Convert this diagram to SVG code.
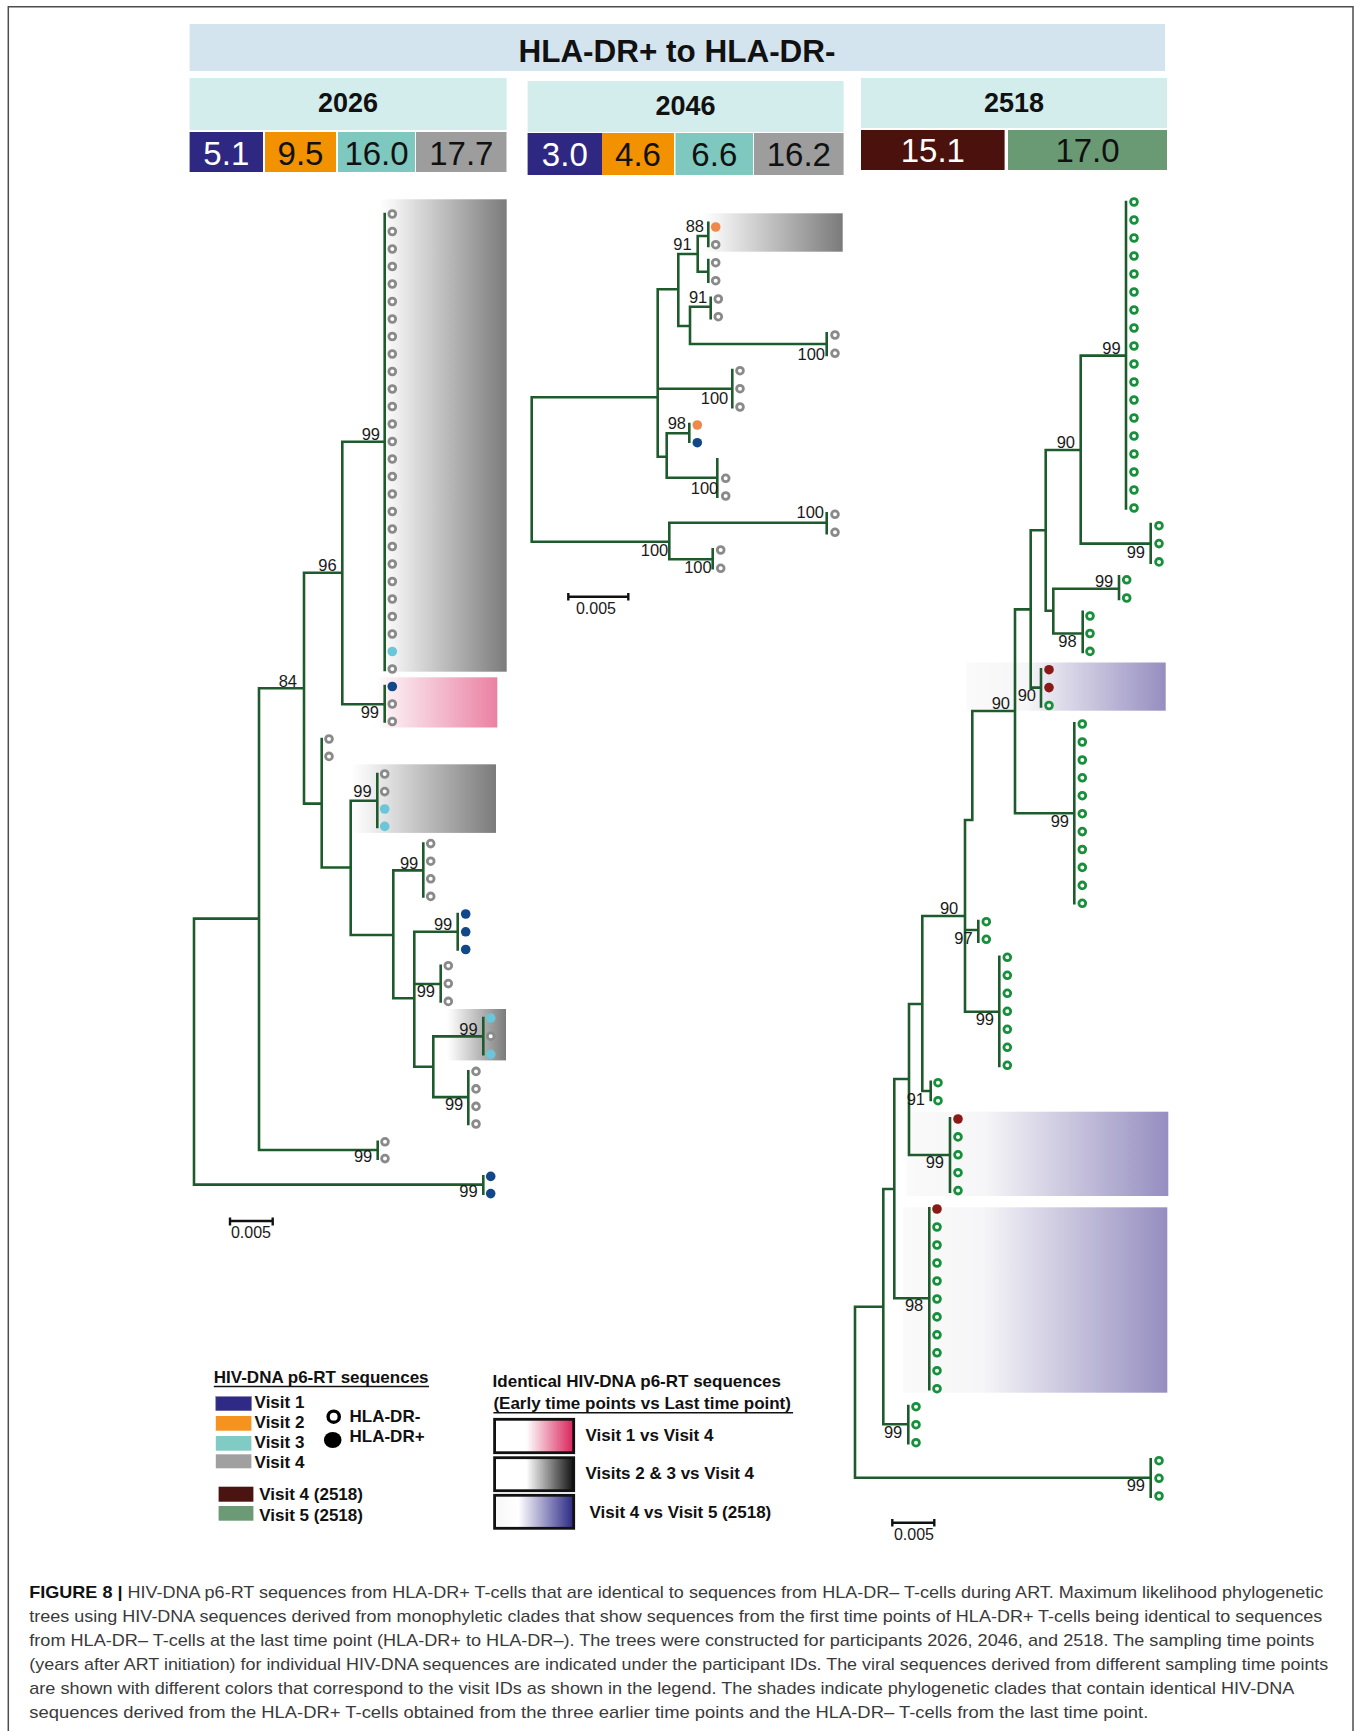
<svg xmlns="http://www.w3.org/2000/svg" width="1360" height="1731" viewBox="0 0 1360 1731">
<defs>
<linearGradient id="gGray" x1="0" y1="0" x2="1" y2="0"><stop offset="0" stop-color="#ffffff"/><stop offset="0.12" stop-color="#f2f2f2"/><stop offset="1" stop-color="#7b7b7b"/></linearGradient>
<linearGradient id="gPink" x1="0" y1="0" x2="1" y2="0"><stop offset="0" stop-color="#ffffff"/><stop offset="0.1" stop-color="#fbeef2"/><stop offset="1" stop-color="#ea81a3"/></linearGradient>
<linearGradient id="gPurple" x1="0" y1="0" x2="1" y2="0"><stop offset="0" stop-color="#fafafa"/><stop offset="0.3" stop-color="#f6f6f8"/><stop offset="1" stop-color="#958ec0"/></linearGradient>
<linearGradient id="lPink" x1="0" y1="0" x2="1" y2="0"><stop offset="0" stop-color="#ffffff"/><stop offset="0.4" stop-color="#ffffff"/><stop offset="1" stop-color="#d9225a"/></linearGradient>
<linearGradient id="lBlack" x1="0" y1="0" x2="1" y2="0"><stop offset="0" stop-color="#ffffff"/><stop offset="0.4" stop-color="#ffffff"/><stop offset="1" stop-color="#111111"/></linearGradient>
<linearGradient id="lBlue" x1="0" y1="0" x2="1" y2="0"><stop offset="0" stop-color="#f7f7f7"/><stop offset="0.3" stop-color="#ffffff"/><stop offset="1" stop-color="#2b2884"/></linearGradient>
</defs>
<style>
.br{fill:none;stroke:#1e5b2c;stroke-width:2.6;stroke-linecap:square}
.gr{fill:#ffffff;stroke:#8a8a8a;stroke-width:2.8}
.gn{fill:#ffffff;stroke:#17903c;stroke-width:2.8}
.cy{fill:#6ac6d8}
.bl{fill:#124889}
.or{fill:#f08849}
.mr{fill:#8a1a17}
.bs{font-family:"Liberation Sans Narrow","Liberation Sans",Arial,sans-serif;font-size:16.5px;fill:#1a1a1a;text-anchor:end}
.sc{font-family:"Liberation Sans Narrow","Liberation Sans",Arial,sans-serif;font-size:16px;fill:#1a1a1a;text-anchor:middle}
.sb{fill:none;stroke:#111;stroke-width:2.4}
.hd{font-family:"Liberation Sans",Arial,sans-serif;font-weight:bold;text-anchor:middle;fill:#111}
.num{font-family:"Liberation Sans Narrow","Liberation Sans",Arial,sans-serif;font-size:33px;text-anchor:middle;fill:#111}
.lg{font-family:"Liberation Sans",Arial,sans-serif;font-weight:bold;font-size:17px;fill:#111}
.cap{font-family:"Liberation Sans",Arial,sans-serif;font-size:17px;fill:#3a3a3a}
</style>
<rect x="0" y="0" width="1360" height="1731" fill="#ffffff"/>
<g id="frame" fill="none" stroke="#4d4d4d" stroke-width="1.5">
<path d="M8.3 1731 V6.7 H1353 V1731"/>
</g>

<g id="header">
<rect x="189.6" y="24" width="975.4" height="47" fill="#d4e4ef"/>
<text class="hd" x="677" y="62" font-size="31" textLength="317" lengthAdjust="spacingAndGlyphs">HLA-DR+ to HLA-DR-</text>
<g id="p2026-head">
<rect x="189.6" y="78" width="317" height="52" fill="#d3ecec"/>
<text class="hd" x="348" y="112" font-size="27">2026</text>
<rect x="189.6" y="132" width="73.4" height="40" fill="#2e2883"/>
<rect x="265" y="132" width="71" height="40" fill="#f39200"/>
<rect x="338" y="132" width="77" height="40" fill="#7ec8bf"/>
<rect x="416" y="132" width="90.5" height="40" fill="#9d9d9d"/>
<text class="num" x="226.3" y="164.5" style="fill:#ffffff">5.1</text>
<text class="num" x="300.5" y="164.5">9.5</text>
<text class="num" x="376.5" y="164.5">16.0</text>
<text class="num" x="461.3" y="164.5">17.7</text>
</g>
<g id="p2046-head">
<rect x="527.6" y="81" width="316" height="51" fill="#d3ecec"/>
<text class="hd" x="685.6" y="115" font-size="27">2046</text>
<rect x="527.6" y="133" width="74.4" height="42" fill="#2e2883"/>
<rect x="602" y="133" width="72" height="42" fill="#f39200"/>
<rect x="675.5" y="133" width="77.5" height="42" fill="#7ec8bf"/>
<rect x="754" y="133" width="89.6" height="42" fill="#9d9d9d"/>
<text class="num" x="564.8" y="166" style="fill:#ffffff">3.0</text>
<text class="num" x="638" y="166">4.6</text>
<text class="num" x="714.3" y="166">6.6</text>
<text class="num" x="798.8" y="166">16.2</text>
</g>
<g id="p2518-head">
<rect x="861" y="78" width="306" height="50" fill="#d3ecec"/>
<text class="hd" x="1014" y="111.7" font-size="27">2518</text>
<rect x="861" y="130" width="143.6" height="40" fill="#4b110c"/>
<rect x="1008" y="130" width="159" height="40" fill="#6a9a73"/>
<text class="num" x="932.8" y="162" style="fill:#ffffff">15.1</text>
<text class="num" x="1087.5" y="162">17.0</text>
</g>
</g>

<g id="tree-2026">
<g id="shades-2026">
<rect x="379" y="199.3" width="127.7" height="472.4" fill="url(#gGray)"/>
<rect x="376.7" y="677.3" width="120.6" height="50.2" fill="url(#gPink)"/>
<rect x="350.7" y="764.3" width="145.3" height="68.6" fill="url(#gGray)"/>
<rect x="446.7" y="1009" width="59.3" height="51.4" fill="url(#gGray)"/>
</g>
<g id="connectors-2026">
<path class="br" d="M384.7 214 V670 M342.3 441.7 H384.7 M384.7 686 V721.5 M342.3 704.3 H384.7 M342.3 441.7 V704.3 M304 572.7 H342.3 M304 572.7 V803.6 M259 688.3 H304 M304 803.6 H321.7 M321.7 739 V867.5 M321.7 867.5 H350.7 M350.7 800.7 V935 M350.7 800.7 H377.3 M377.3 774 V827 M350.7 935 H393.3 M393.3 870.4 V998.2 M393.3 870.4 H423.3 M423.3 843.6 V896.4 M393.3 998.2 H414.3 M414.3 931.8 V1066.8 M414.3 931.8 H457.7 M457.7 914 V949.5 M414.3 984 H440.7 M440.7 965.7 V1001.4 M414.3 1066.8 H433.3 M433.3 1036.4 V1097.1 M433.3 1036.4 H483.3 M483.3 1018 V1054.3 M433.3 1097.1 H468.3 M468.3 1071.4 V1124 M259 688.3 V1150 M194 918.6 H259 M259 1150 H377.7 M377.7 1141.8 V1158.6 M194 918.6 V1184.6 M194 1184.6 H483.3 M483.3 1176.4 V1193.6"/>
</g>
<g id="leaves-2026">
<circle class="gr" cx="392.3" cy="214" r="3.4"/><circle class="gr" cx="392.3" cy="231.5" r="3.4"/><circle class="gr" cx="392.3" cy="249" r="3.4"/><circle class="gr" cx="392.3" cy="266.5" r="3.4"/><circle class="gr" cx="392.3" cy="284" r="3.4"/><circle class="gr" cx="392.3" cy="301.5" r="3.4"/><circle class="gr" cx="392.3" cy="319" r="3.4"/><circle class="gr" cx="392.3" cy="336.5" r="3.4"/><circle class="gr" cx="392.3" cy="354" r="3.4"/><circle class="gr" cx="392.3" cy="371.5" r="3.4"/><circle class="gr" cx="392.3" cy="389" r="3.4"/><circle class="gr" cx="392.3" cy="406.5" r="3.4"/><circle class="gr" cx="392.3" cy="424" r="3.4"/><circle class="gr" cx="392.3" cy="441.5" r="3.4"/><circle class="gr" cx="392.3" cy="459" r="3.4"/><circle class="gr" cx="392.3" cy="476.5" r="3.4"/><circle class="gr" cx="392.3" cy="494" r="3.4"/><circle class="gr" cx="392.3" cy="511.5" r="3.4"/><circle class="gr" cx="392.3" cy="529" r="3.4"/><circle class="gr" cx="392.3" cy="546.5" r="3.4"/><circle class="gr" cx="392.3" cy="564" r="3.4"/><circle class="gr" cx="392.3" cy="581.5" r="3.4"/><circle class="gr" cx="392.3" cy="599" r="3.4"/><circle class="gr" cx="392.3" cy="616.5" r="3.4"/><circle class="gr" cx="392.3" cy="634" r="3.4"/><circle class="cy" cx="392.3" cy="651.5" r="4.8"/><circle class="gr" cx="392.3" cy="669" r="3.4"/>
<circle class="bl" cx="392.3" cy="686.5" r="4.8"/><circle class="gr" cx="392.3" cy="704" r="3.4"/><circle class="gr" cx="392.3" cy="721.5" r="3.4"/>
<circle class="gr" cx="329" cy="739" r="3.4"/><circle class="gr" cx="329" cy="756.4" r="3.4"/>
<circle class="gr" cx="384.7" cy="774" r="3.4"/><circle class="gr" cx="384.7" cy="791.6" r="3.4"/><circle class="cy" cx="384.7" cy="809" r="4.8"/><circle class="cy" cx="384.7" cy="826.4" r="4.8"/>
<circle class="gr" cx="430.7" cy="843.6" r="3.4"/><circle class="gr" cx="430.7" cy="861.2" r="3.4"/><circle class="gr" cx="430.7" cy="878.8" r="3.4"/><circle class="gr" cx="430.7" cy="896.4" r="3.4"/>
<circle class="bl" cx="465.7" cy="914" r="4.8"/><circle class="bl" cx="465.7" cy="931.8" r="4.8"/><circle class="bl" cx="465.7" cy="949.5" r="4.8"/>
<circle class="gr" cx="448.3" cy="965.7" r="3.4"/><circle class="gr" cx="448.3" cy="983.6" r="3.4"/><circle class="gr" cx="448.3" cy="1001.4" r="3.4"/>
<circle class="cy" cx="490.7" cy="1018" r="4.8"/><circle class="gr" cx="490.7" cy="1036.2" r="3.4"/><circle class="cy" cx="490.7" cy="1054.3" r="4.8"/>
<circle class="gr" cx="476" cy="1071.4" r="3.4"/><circle class="gr" cx="476" cy="1088.9" r="3.4"/><circle class="gr" cx="476" cy="1106.4" r="3.4"/><circle class="gr" cx="476" cy="1124" r="3.4"/>
<circle class="gr" cx="385" cy="1141.8" r="3.4"/><circle class="gr" cx="385" cy="1158.6" r="3.4"/>
<circle class="bl" cx="490.7" cy="1176.4" r="4.8"/><circle class="bl" cx="490.7" cy="1193.6" r="4.8"/>
</g>
<g id="labels-2026">
<text class="bs" x="380" y="440">99</text>
<text class="bs" x="336.7" y="571">96</text>
<text class="bs" x="297" y="686.5">84</text>
<text class="bs" x="379" y="717.5">99</text>
<text class="bs" x="371.7" y="797">99</text>
<text class="bs" x="418.3" y="868.6">99</text>
<text class="bs" x="452.3" y="930">99</text>
<text class="bs" x="435" y="997">99</text>
<text class="bs" x="477.7" y="1034.6">99</text>
<text class="bs" x="463.3" y="1110">99</text>
<text class="bs" x="372.3" y="1162">99</text>
<text class="bs" x="477.7" y="1197">99</text>
</g>
<g id="scale-2026">
<path class="sb" d="M230 1221 H272.7 M230 1217.5 V1225.5 M272.7 1217.5 V1225.5"/>
<text class="sc" x="251" y="1238">0.005</text>
</g>
</g>

<g id="tree-2046">
<rect x="701.7" y="213.3" width="141" height="38.4" fill="url(#gGray)"/>
<g id="connectors-2046">
<path class="br" d="M708.3 222.7 V246 M697.7 236 H708.3 M697.7 236 V271.7 M708.3 260 V281.7 M697.7 271.7 H708.3 M678.3 254 H697.7 M678.3 254 V326 M678.3 326 H690 M690 306.7 V344 M690 306.7 H710.7 M710.7 297.7 V318.3 M690 344 H826.7 M826.7 333.3 V355 M657.7 289.3 H678.3 M657.7 289.3 V456.7 M531.7 397.3 H657.7 M657.7 388.7 H732.3 M732.3 370 V407.3 M657.7 456.7 H666.7 M666.7 433.3 V477.7 M666.7 433.3 H689.3 M689.3 424 V441.7 M666.7 477.7 H717.3 M717.3 459.3 V496.7 M531.7 397.3 V541.7 M531.7 541.7 H669.3 M669.3 522.7 V559.3 M669.3 522.7 H826.7 M826.7 513.3 V533.3 M669.3 559.3 H712.7 M712.7 549.3 V568.3"/>
</g>
<g id="leaves-2046">
<circle class="or" cx="715.7" cy="227" r="4.8"/><circle class="gr" cx="715.7" cy="244.7" r="3.4"/>
<circle class="gr" cx="715.7" cy="262.7" r="3.4"/><circle class="gr" cx="715.7" cy="280.7" r="3.4"/>
<circle class="gr" cx="718.3" cy="299" r="3.4"/><circle class="gr" cx="718.3" cy="316.7" r="3.4"/>
<circle class="gr" cx="835" cy="335" r="3.4"/><circle class="gr" cx="835" cy="353.3" r="3.4"/>
<circle class="gr" cx="740" cy="370.7" r="3.4"/><circle class="gr" cx="740" cy="388.7" r="3.4"/><circle class="gr" cx="740" cy="407" r="3.4"/>
<circle class="or" cx="697.3" cy="425" r="4.8"/><circle class="bl" cx="697.3" cy="442.7" r="4.8"/>
<circle class="gr" cx="725.7" cy="478.3" r="3.4"/><circle class="gr" cx="725.7" cy="496" r="3.4"/>
<circle class="gr" cx="835" cy="514.3" r="3.4"/><circle class="gr" cx="835" cy="532.3" r="3.4"/>
<circle class="gr" cx="720.7" cy="550" r="3.4"/><circle class="gr" cx="720.7" cy="568.3" r="3.4"/>
</g>
<g id="labels-2046">
<text class="bs" x="704" y="231.7">88</text>
<text class="bs" x="691.7" y="250">91</text>
<text class="bs" x="707.3" y="302.7">91</text>
<text class="bs" x="825" y="360">100</text>
<text class="bs" x="728.3" y="403.5">100</text>
<text class="bs" x="686" y="429.3">98</text>
<text class="bs" x="718.3" y="494">100</text>
<text class="bs" x="824" y="518.3">100</text>
<text class="bs" x="668.3" y="556">100</text>
<text class="bs" x="711.7" y="572.5">100</text>
</g>
<g id="scale-2046">
<path class="sb" d="M568.3 596.7 H628.3 M568.3 593 V600.4 M628.3 593 V600.4"/>
<text class="sc" x="596" y="614">0.005</text>
</g>
</g>

<g id="tree-2518">
<g id="shades-2518">
<rect x="966.7" y="662.5" width="199" height="48.2" fill="url(#gPurple)"/>
<rect x="906.7" y="1111.7" width="261.6" height="84.3" fill="url(#gPurple)"/>
<rect x="903.3" y="1207.3" width="264" height="185.4" fill="url(#gPurple)"/>
</g>
<g id="connectors-2518">
<path class="br" d="M1126 202 V508.5 M1080.7 355.6 H1126 M1080.7 355.6 V543.6 M1045.7 450 H1080.7 M1080.7 543.6 H1150.7 M1150.7 524 V562.6 M1045.7 450 V610.8 M1030.7 530.2 H1045.7 M1045.7 610.8 H1053.3 M1053.3 588.8 V633.5 M1053.3 588.8 H1119 M1119 576.4 V599 M1053.3 633.5 H1082.7 M1082.7 611.8 V652 M1030.7 530.2 V687.6 M1015 609.4 H1030.7 M1030.7 687.6 H1041 M1041 669.3 V706.5 M1015 609.4 V813.3 M972.3 711 H1015 M1015 813.3 H1074.3 M1074.3 723.3 V903.3 M972.3 711 V820 M965 820 H972.3 M965 820 V1011.7 M922.3 916 H965 M965 930 H978.3 M978.3 921 V941.7 M965 1011.7 H999.3 M999.3 956.7 V1066 M922.3 916 V1091 M909 1004 H922.3 M922.3 1091 H930.7 M930.7 1081.7 V1100 M909 1004 V1155 M894.3 1079 H909 M909 1155 H950 M950 1118.3 V1191.7 M894.3 1079 V1298.3 M883.3 1189 H894.3 M894.3 1298.3 H929.3 M929.3 1208.3 V1389.3 M883.3 1189 V1424.3 M855 1306.7 H883.3 M883.3 1424.3 H908.3 M908.3 1406 V1443.3 M855 1306.7 V1477.7 M855 1477.7 H1150.7 M1150.7 1459.3 V1496.7"/>
</g>
<g id="leaves-2518">
<circle class="gn" cx="1134" cy="202" r="3.4"/><circle class="gn" cx="1134" cy="220" r="3.4"/><circle class="gn" cx="1134" cy="238" r="3.4"/><circle class="gn" cx="1134" cy="256" r="3.4"/><circle class="gn" cx="1134" cy="274" r="3.4"/><circle class="gn" cx="1134" cy="292" r="3.4"/><circle class="gn" cx="1134" cy="310" r="3.4"/><circle class="gn" cx="1134" cy="328" r="3.4"/><circle class="gn" cx="1134" cy="346" r="3.4"/><circle class="gn" cx="1134" cy="364" r="3.4"/><circle class="gn" cx="1134" cy="382" r="3.4"/><circle class="gn" cx="1134" cy="400" r="3.4"/><circle class="gn" cx="1134" cy="418" r="3.4"/><circle class="gn" cx="1134" cy="436" r="3.4"/><circle class="gn" cx="1134" cy="454" r="3.4"/><circle class="gn" cx="1134" cy="472" r="3.4"/><circle class="gn" cx="1134" cy="490" r="3.4"/><circle class="gn" cx="1134" cy="508" r="3.4"/>
<circle class="gn" cx="1159" cy="525.7" r="3.4"/><circle class="gn" cx="1159" cy="543.6" r="3.4"/><circle class="gn" cx="1159" cy="561.9" r="3.4"/>
<circle class="gn" cx="1126.7" cy="579.8" r="3.4"/><circle class="gn" cx="1126.7" cy="598" r="3.4"/>
<circle class="gn" cx="1090" cy="616" r="3.4"/><circle class="gn" cx="1090" cy="633.5" r="3.4"/><circle class="gn" cx="1090" cy="651.4" r="3.4"/>
<circle class="mr" cx="1049" cy="669.7" r="4.8"/><circle class="mr" cx="1049" cy="687.6" r="4.8"/><circle class="gn" cx="1049" cy="705.5" r="3.4"/>
<circle class="gn" cx="1082.3" cy="724" r="3.4"/><circle class="gn" cx="1082.3" cy="742" r="3.4"/><circle class="gn" cx="1082.3" cy="760" r="3.4"/><circle class="gn" cx="1082.3" cy="777.8" r="3.4"/><circle class="gn" cx="1082.3" cy="795.7" r="3.4"/><circle class="gn" cx="1082.3" cy="813.7" r="3.4"/><circle class="gn" cx="1082.3" cy="831.6" r="3.4"/><circle class="gn" cx="1082.3" cy="849.5" r="3.4"/><circle class="gn" cx="1082.3" cy="867.4" r="3.4"/><circle class="gn" cx="1082.3" cy="885.4" r="3.4"/><circle class="gn" cx="1082.3" cy="903.3" r="3.4"/>
<circle class="gn" cx="986.3" cy="921.7" r="3.4"/><circle class="gn" cx="986.3" cy="939.3" r="3.4"/>
<circle class="gn" cx="1007.3" cy="957.3" r="3.4"/><circle class="gn" cx="1007.3" cy="975.3" r="3.4"/><circle class="gn" cx="1007.3" cy="993.3" r="3.4"/><circle class="gn" cx="1007.3" cy="1011.3" r="3.4"/><circle class="gn" cx="1007.3" cy="1029.3" r="3.4"/><circle class="gn" cx="1007.3" cy="1047.3" r="3.4"/><circle class="gn" cx="1007.3" cy="1065.3" r="3.4"/>
<circle class="gn" cx="938" cy="1082.7" r="3.4"/><circle class="gn" cx="938" cy="1100.7" r="3.4"/>
<circle class="mr" cx="958" cy="1119" r="4.8"/><circle class="gn" cx="958" cy="1136.9" r="3.4"/><circle class="gn" cx="958" cy="1154.8" r="3.4"/><circle class="gn" cx="958" cy="1172.7" r="3.4"/><circle class="gn" cx="958" cy="1190.6" r="3.4"/>
<circle class="mr" cx="937" cy="1209" r="4.8"/><circle class="gn" cx="937" cy="1227" r="3.4"/><circle class="gn" cx="937" cy="1245" r="3.4"/><circle class="gn" cx="937" cy="1263" r="3.4"/><circle class="gn" cx="937" cy="1281" r="3.4"/><circle class="gn" cx="937" cy="1299" r="3.4"/><circle class="gn" cx="937" cy="1316.9" r="3.4"/><circle class="gn" cx="937" cy="1334.8" r="3.4"/><circle class="gn" cx="937" cy="1352.8" r="3.4"/><circle class="gn" cx="937" cy="1370.7" r="3.4"/><circle class="gn" cx="937" cy="1388.7" r="3.4"/>
<circle class="gn" cx="916" cy="1406.7" r="3.4"/><circle class="gn" cx="916" cy="1424.7" r="3.4"/><circle class="gn" cx="916" cy="1442.7" r="3.4"/>
<circle class="gn" cx="1159" cy="1460.7" r="3.4"/><circle class="gn" cx="1159" cy="1478.3" r="3.4"/><circle class="gn" cx="1159" cy="1496" r="3.4"/>
</g>
<g id="labels-2518">
<text class="bs" x="1120.7" y="353.6">99</text>
<text class="bs" x="1075" y="448.3">90</text>
<text class="bs" x="1145" y="557.5">99</text>
<text class="bs" x="1113.3" y="586.7">99</text>
<text class="bs" x="1076.7" y="647">98</text>
<text class="bs" x="1036" y="701">90</text>
<text class="bs" x="1010" y="709.3">90</text>
<text class="bs" x="1069" y="827">99</text>
<text class="bs" x="958.3" y="914.3">90</text>
<text class="bs" x="972.7" y="943.5">97</text>
<text class="bs" x="994" y="1025">99</text>
<text class="bs" x="925" y="1105">91</text>
<text class="bs" x="944" y="1167.5">99</text>
<text class="bs" x="923.3" y="1311">98</text>
<text class="bs" x="902.3" y="1438">99</text>
<text class="bs" x="1145" y="1491">99</text>
</g>
<g id="scale-2518">
<path class="sb" d="M892.3 1522.7 H934.3 M892.3 1519 V1526.5 M934.3 1519 V1526.5"/>
<text class="sc" x="914" y="1540">0.005</text>
</g>
</g>

<g id="legend">
<g id="legend-visits">
<text class="lg" x="213.8" y="1383">HIV-DNA p6-RT sequences</text>
<line x1="213.8" y1="1386.5" x2="429" y2="1386.5" stroke="#111" stroke-width="1.5"/>
<rect x="215.8" y="1396.7" width="35.6" height="14" fill="#2e2a85" stroke="#6e6aa8" stroke-width="0.6"/>
<rect x="215.8" y="1416" width="35.6" height="14.7" fill="#f6921e"/>
<rect x="215.8" y="1436" width="35.6" height="14.7" fill="#80cbc4"/>
<rect x="215.8" y="1454.3" width="35.6" height="14" fill="#a0a0a0"/>
<text class="lg" x="254.6" y="1408">Visit 1</text>
<text class="lg" x="254.6" y="1428">Visit 2</text>
<text class="lg" x="254.6" y="1448">Visit 3</text>
<text class="lg" x="254.6" y="1468">Visit 4</text>
<rect x="218.6" y="1486.7" width="34.8" height="15" fill="#4a1410"/>
<rect x="218.6" y="1506" width="34.8" height="14.7" fill="#6b9a75"/>
<text class="lg" x="259.3" y="1500">Visit 4 (2518)</text>
<text class="lg" x="259.3" y="1520.5">Visit 5 (2518)</text>
<circle cx="333.7" cy="1416.7" r="5.6" fill="#ffffff" stroke="#000" stroke-width="3.4"/>
<ellipse cx="332.7" cy="1440" rx="8.8" ry="8" fill="#000"/>
<text class="lg" x="349.5" y="1422">HLA-DR-</text>
<text class="lg" x="349.5" y="1442">HLA-DR+</text>
</g>
<g id="legend-shades">
<text class="lg" x="492.6" y="1386.7">Identical HIV-DNA p6-RT sequences</text>
<text class="lg" x="493.4" y="1409.3">(Early time points vs Last time point)</text>
<line x1="493.4" y1="1412.8" x2="793.1" y2="1412.8" stroke="#111" stroke-width="1.5"/>
<rect x="494.6" y="1419.3" width="79.1" height="33.4" fill="url(#lPink)" stroke="#111" stroke-width="2.8"/>
<rect x="494.6" y="1457.7" width="79.1" height="33" fill="url(#lBlack)" stroke="#111" stroke-width="2.8"/>
<rect x="494.6" y="1495.3" width="79.1" height="33" fill="url(#lBlue)" stroke="#111" stroke-width="2.8"/>
<text class="lg" x="585.5" y="1441">Visit 1 vs Visit 4</text>
<text class="lg" x="585.5" y="1478.5">Visits 2 &amp; 3 vs Visit 4</text>
<text class="lg" x="589.5" y="1518.3">Visit 4 vs Visit 5 (2518)</text>
</g>
</g>

<g id="caption">
<text class="cap" x="29.3" y="1598" textLength="1294" lengthAdjust="spacingAndGlyphs"><tspan font-weight="bold" fill="#111">FIGURE 8 |</tspan> HIV-DNA p6-RT sequences from HLA-DR+ T-cells that are identical to sequences from HLA-DR– T-cells during ART. Maximum likelihood phylogenetic</text>
<text class="cap" x="29.3" y="1622" textLength="1293" lengthAdjust="spacingAndGlyphs">trees using HIV-DNA sequences derived from monophyletic clades that show sequences from the first time points of HLA-DR+ T-cells being identical to sequences</text>
<text class="cap" x="29.3" y="1646" textLength="1285" lengthAdjust="spacingAndGlyphs">from HLA-DR– T-cells at the last time point (HLA-DR+ to HLA-DR–). The trees were constructed for participants 2026, 2046, and 2518. The sampling time points</text>
<text class="cap" x="29.3" y="1670" textLength="1299" lengthAdjust="spacingAndGlyphs">(years after ART initiation) for individual HIV-DNA sequences are indicated under the participant IDs. The viral sequences derived from different sampling time points</text>
<text class="cap" x="29.3" y="1694" textLength="1265" lengthAdjust="spacingAndGlyphs">are shown with different colors that correspond to the visit IDs as shown in the legend. The shades indicate phylogenetic clades that contain identical HIV-DNA</text>
<text class="cap" x="29.3" y="1718" textLength="1119" lengthAdjust="spacingAndGlyphs">sequences derived from the HLA-DR+ T-cells obtained from the three earlier time points and the HLA-DR– T-cells from the last time point.</text>
</g>
</svg>
